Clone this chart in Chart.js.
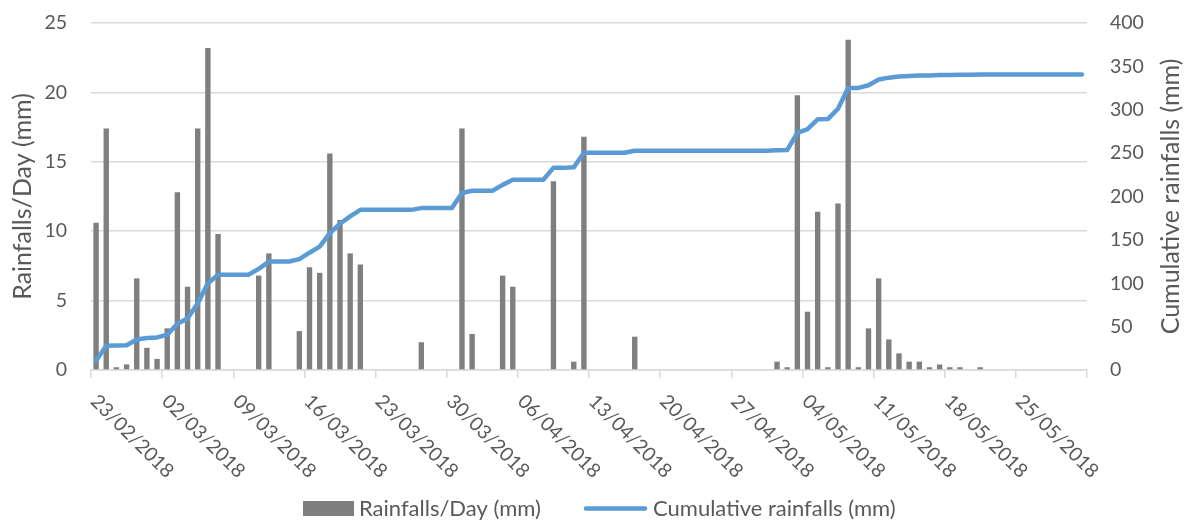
<!DOCTYPE html>
<html>
<head>
<meta charset="utf-8">
<title>Rainfall</title>
<script src="https://cdn.jsdelivr.net/npm/chart.js@4.4.1/dist/chart.umd.min.js"></script>
<style>
  html, body { margin: 0; padding: 0; background: #ffffff; }
  #wrap { width: 1193px; height: 522px; }
</style>
</head>
<body>
<div id="wrap"><canvas id="chart" width="1193" height="522"></canvas></div>
<script>
// Daily series: one entry per day, 23/02/2018 .. 31/05/2018 (98 days)
const firstDay = new Date(2018, 1, 23);
const dayCount = 98;

// Rain per day (mm), one row per week
const dailyRain = [
  10.6, 17.4, 0.2, 0.4, 6.6, 1.6, 0.8,
  3.0, 12.8, 6.0, 17.4, 23.2, 9.8, 0,
  0, 0, 6.8, 8.4, 0, 0, 2.8,
  7.4, 7.0, 15.6, 10.8, 8.4, 7.6, 0,
  0, 0, 0, 0, 2.0, 0, 0,
  0, 17.4, 2.6, 0, 0, 6.8, 6.0,
  0, 0, 0, 13.6, 0, 0.6, 16.8,
  0, 0, 0, 0, 2.4, 0, 0,
  0, 0, 0, 0, 0, 0, 0,
  0, 0, 0, 0, 0.6, 0.2, 19.8,
  4.2, 11.4, 0.2, 12.0, 23.8, 0.2, 3.0,
  6.6, 2.2, 1.2, 0.6, 0.6, 0.2, 0.4,
  0.2, 0.2, 0, 0.2, 0, 0, 0,
  0, 0, 0, 0, 0, 0, 0
];

// Cumulative rain (mm), one row per week
const cumulativeRain = [
  10.6, 28.0, 28.2, 28.6, 35.2, 36.8, 37.6,
  40.6, 53.4, 59.4, 76.8, 100.0, 109.8, 109.8,
  109.8, 109.8, 116.6, 125.0, 125.0, 125.0, 127.8,
  135.2, 142.2, 157.8, 168.6, 177.0, 184.6, 184.6,
  184.6, 184.6, 184.6, 184.6, 186.6, 186.6, 186.6,
  186.6, 204.0, 206.6, 206.6, 206.6, 213.4, 219.4,
  219.4, 219.4, 219.4, 233.0, 233.0, 233.6, 250.4,
  250.4, 250.4, 250.4, 250.4, 252.8, 252.8, 252.8,
  252.8, 252.8, 252.8, 252.8, 252.8, 252.8, 252.8,
  252.8, 252.8, 252.8, 252.8, 253.4, 253.6, 273.4,
  277.6, 289.0, 289.2, 301.2, 325.0, 325.2, 328.2,
  334.8, 337.0, 338.2, 338.8, 339.4, 339.6, 340.0,
  340.2, 340.4, 340.4, 340.6, 340.6, 340.6, 340.6,
  340.6, 340.6, 340.6, 340.6, 340.6, 340.6, 340.6
];

// Weekly date labels on the horizontal axis
const tickLabels = [
  '23/02/2018', '02/03/2018', '09/03/2018', '16/03/2018', '23/03/2018',
  '30/03/2018', '06/04/2018', '13/04/2018', '20/04/2018', '27/04/2018',
  '04/05/2018', '11/05/2018', '18/05/2018', '25/05/2018'
];

const leftTitle = 'Rainfalls/Day (mm)';
const rightTitle = 'Cumulative rainfalls (mm)';
const barLabel = 'Rainfalls/Day (mm)';
const lineLabel = 'Cumulative rainfalls (mm)';

// Category labels dd/mm/yyyy for every day of the period
const pad2 = n => (n < 10 ? '0' : '') + n;
const dates = [];
for (let i = 0; i < dayCount; i++) {
  const d = new Date(firstDay.getFullYear(), firstDay.getMonth(), firstDay.getDate() + i);
  dates.push(pad2(d.getDate()) + '/' + pad2(d.getMonth() + 1) + '/' + d.getFullYear());
}

const TEXT = '#595959';
const GRID = '#d9d9d9';
const BAR = '#7f7f7f';
const LINE = '#5b9bd5';
const CLEAR = 'rgba(0,0,0,0)';
const FONT = 'Lato';
const TICK_SIZE = 19.5;

// Axis titles, rotated date labels and legend
const annotations = {
  id: 'rainAnnotations',
  afterDraw(chart) {
    const { ctx, chartArea, scales } = chart;
    const xs = scales.x;
    const half = (xs.getPixelForValue(1) - xs.getPixelForValue(0)) / 2;
    ctx.save();
    ctx.fillStyle = TEXT;

    // date labels, slanted down to the right from each weekly tick
    ctx.font = TICK_SIZE + 'px ' + FONT;
    ctx.textAlign = 'left';
    ctx.textBaseline = 'middle';
    tickLabels.forEach(lbl => {
      const idx = dates.indexOf(lbl);
      if (idx < 0) return;
      const px = xs.getPixelForValue(idx) - half;
      ctx.save();
      ctx.translate(px + 3, chartArea.bottom + 28);
      ctx.rotate(Math.PI / 4);
      ctx.fillText(lbl, 0, 0);
      ctx.restore();
    });

    // axis titles, both reading bottom to top
    const midY = (chartArea.top + chartArea.bottom) / 2;
    ctx.font = '25px ' + FONT;
    ctx.textAlign = 'center';
    ctx.textBaseline = 'middle';
    [[22.5, leftTitle], [1171, rightTitle]].forEach(([tx, t]) => {
      ctx.save();
      ctx.translate(tx, midY);
      ctx.rotate(-Math.PI / 2);
      ctx.fillText(t, 0, 0);
      ctx.restore();
    });

    // legend
    const ly = 508.5;
    ctx.font = '22px ' + FONT;
    ctx.textAlign = 'left';
    ctx.fillStyle = BAR;
    ctx.fillRect(303, ly - 7.5, 51, 15);
    ctx.fillStyle = TEXT;
    ctx.fillText(barLabel, 359, ly);
    ctx.strokeStyle = LINE;
    ctx.lineWidth = 4.5;
    ctx.lineCap = 'round';
    ctx.beginPath();
    ctx.moveTo(586, ly);
    ctx.lineTo(645, ly);
    ctx.stroke();
    ctx.fillText(lineLabel, 653, ly);
    ctx.restore();
  }
};

Chart.defaults.font.family = FONT;
Chart.defaults.color = TEXT;

new Chart(document.getElementById('chart'), {
  type: 'bar',
  data: {
    labels: dates,
    datasets: [
      {
        type: 'line',
        label: lineLabel,
        data: cumulativeRain,
        yAxisID: 'y1',
        borderColor: LINE,
        backgroundColor: LINE,
        borderWidth: 4.5,
        borderJoinStyle: 'round',
        borderCapStyle: 'round',
        pointRadius: 0,
        tension: 0,
        order: 0
      },
      {
        type: 'bar',
        label: barLabel,
        data: dailyRain,
        yAxisID: 'y',
        backgroundColor: BAR,
        barPercentage: 0.53,
        categoryPercentage: 1.0,
        order: 1
      }
    ]
  },
  options: {
    responsive: false,
    animation: false,
    events: [],
    layout: { padding: { top: 23, left: 0, right: 0, bottom: 0 } },
    plugins: {
      legend: { display: false },
      tooltip: { enabled: false }
    },
    scales: {
      x: {
        type: 'category',
        offset: true,
        ticks: { display: false },
        grid: {
          offset: true,
          drawOnChartArea: false,
          drawTicks: true,
          tickLength: 8,
          lineWidth: 1.5,
          color: c => (c.index === undefined || c.index % 7 === 0) ? GRID : CLEAR
        },
        border: { display: true, color: GRID, width: 1.5 },
        afterFit: s => { s.height = 152; }
      },
      y: {
        position: 'left',
        min: 0,
        max: 25,
        ticks: { stepSize: 5, padding: 0, font: { size: TICK_SIZE }, color: TEXT },
        grid: { color: GRID, lineWidth: 1.5, drawTicks: true, tickLength: 24, tickColor: CLEAR },
        border: { display: false },
        afterFit: s => { s.width = 91; }
      },
      y1: {
        position: 'right',
        min: 0,
        max: 400,
        ticks: { stepSize: 50, padding: 0, font: { size: TICK_SIZE }, color: TEXT },
        grid: { drawOnChartArea: false, drawTicks: true, tickLength: 23, color: CLEAR, tickColor: CLEAR },
        border: { display: false },
        afterFit: s => { s.width = 106; }
      }
    }
  },
  plugins: [annotations]
});
</script>
</body>
</html>
